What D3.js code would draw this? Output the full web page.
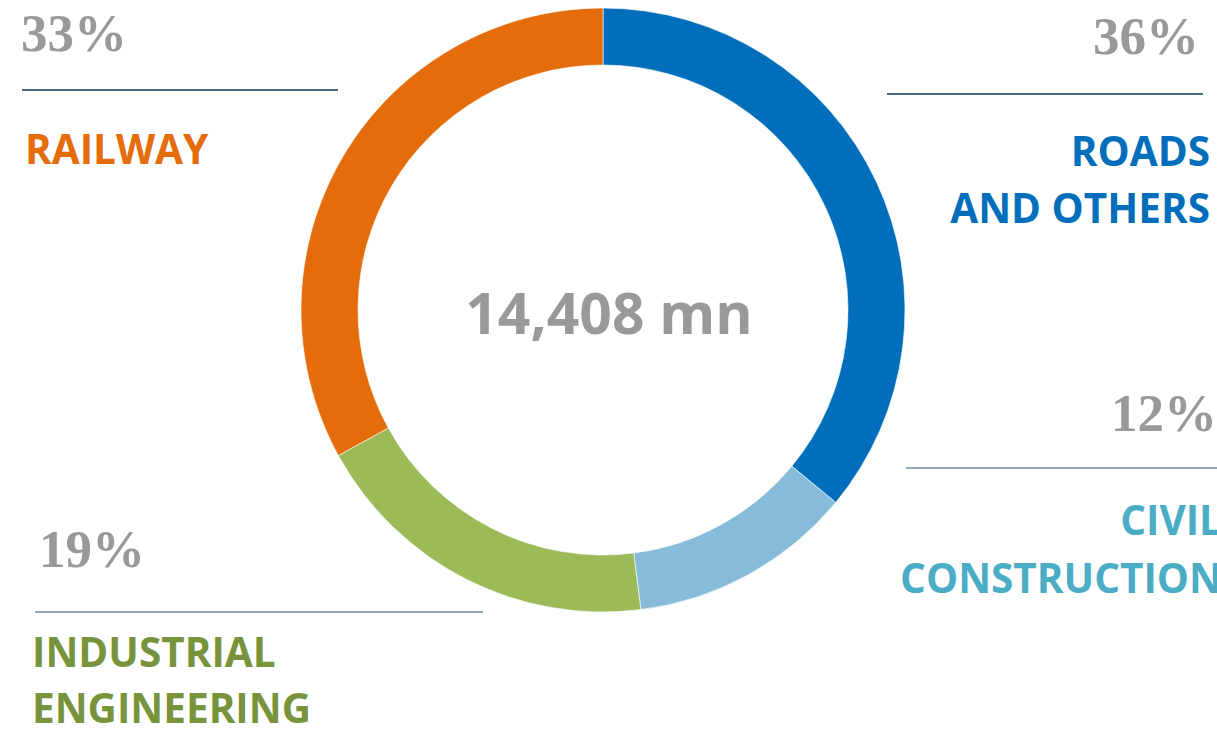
<!DOCTYPE html>
<html>
<head>
<meta charset="utf-8">
<script src="https://cdn.jsdelivr.net/npm/d3@7"></script>
<style>
  html, body { margin: 0; padding: 0; background: #fff; overflow: hidden; }
  .pct { font-family: "Liberation Serif", "DejaVu Serif", serif; font-weight: bold; fill: #999999; }
  .cat { font-family: "Open Sans", sans-serif; font-weight: bold; }
  .total { font-family: "Open Sans", sans-serif; font-weight: bold; fill: #999999; }
</style>
</head>
<body>
<svg class="chart"></svg>
<script>
// segment data, clockwise from 12 o'clock
const categories = ["ROADS AND OTHERS", "CIVIL CONSTRUCTION", "INDUSTRIAL ENGINEERING", "RAILWAY"];
const shares = [36, 12, 19, 33];
const totalLabel = "14,408 mn";
const sliceColors = ["#006EBA", "#86BCD9", "#9BBB59", "#E46C0A"];
const textColors = ["#006EBA", "#4BACC6", "#77933C", "#E46C0A"];

const width = 1217, height = 731;
const cx = 603, cy = 310;
const outerR = 302, innerR = 245;

const svg = d3.select(".chart")
  .attr("width", width)
  .attr("height", height);

const pie = d3.pie().sort(null).value(d => d.v);
const arc = d3.arc().innerRadius(innerR).outerRadius(outerR);

const slices = categories.map((c, i) => ({ name: c, v: shares[i], i: i }));

const g = svg.append("g").attr("transform", "translate(" + cx + "," + cy + ")");
g.selectAll("path")
  .data(pie(slices))
  .enter().append("path")
  .attr("d", arc)
  .attr("fill", d => sliceColors[d.data.i])
  .attr("stroke", "#fff")
  .attr("stroke-width", 0.6);

g.append("text")
  .attr("class", "total")
  .attr("text-anchor", "middle")
  .attr("x", 6)
  .attr("y", 24)
  .style("font-size", "57px")
  .text(totalLabel);

// where each label block sits (pct baseline, rule, title lines)
const layout = [
  { anchor: "end", pctX: 1199, pctY: 54, line: [887, 1203, 94], lineColor: "#0f3a5c", txtX: 1210, txtY: [166, 223] },
  { anchor: "end", pctX: 1217, pctY: 431, line: [906, 1217, 468], lineColor: "#6b8a9c", txtX: 1222, txtY: [535, 593] },
  { anchor: "start", pctX: 39, pctY: 567, line: [35, 483, 612], lineColor: "#6b8a9c", txtX: 32, txtY: [667, 723] },
  { anchor: "start", pctX: 21, pctY: 51, line: [22, 338, 90], lineColor: "#0f3a5c", txtX: 25, txtY: [164] }
];
const titleLines = [["ROADS", "AND OTHERS"], ["CIVIL", "CONSTRUCTION"], ["INDUSTRIAL", "ENGINEERING"], ["RAILWAY"]];

layout.forEach((L, i) => {
  svg.append("text")
    .attr("class", "pct")
    .attr("text-anchor", L.anchor)
    .attr("x", L.pctX)
    .attr("y", L.pctY)
    .style("font-size", "53px")
    .text(shares[i] + "%");

  svg.append("line")
    .attr("x1", L.line[0]).attr("x2", L.line[1])
    .attr("y1", L.line[2]).attr("y2", L.line[2])
    .attr("stroke", L.lineColor)
    .attr("stroke-width", 1.3);

  titleLines[i].forEach((t, k) => {
    svg.append("text")
      .attr("class", "cat")
      .attr("text-anchor", L.anchor)
      .attr("x", L.txtX)
      .attr("y", L.txtY[k])
      .attr("fill", textColors[i])
      .style("font-size", "40.5px")
      .text(t);
  });
});
</script>
</body>
</html>
